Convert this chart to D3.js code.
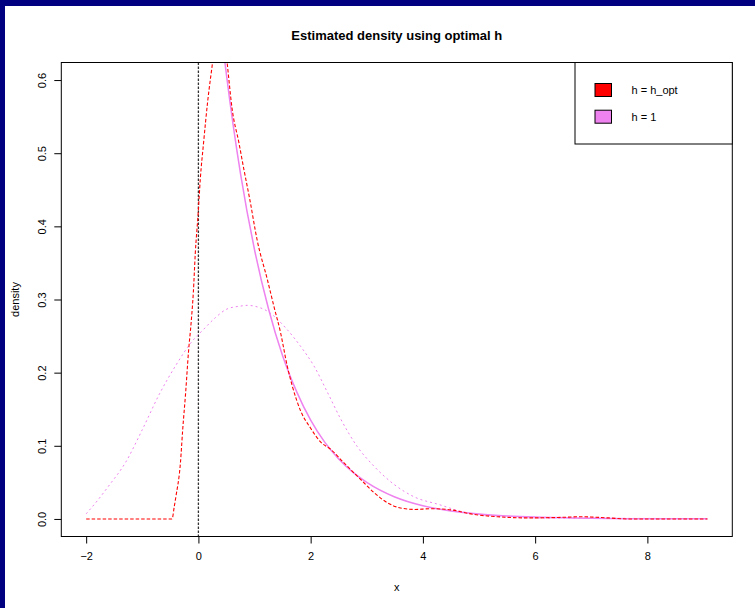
<!DOCTYPE html>
<html>
<head>
<meta charset="utf-8">
<script src="https://cdn.jsdelivr.net/npm/d3@7"></script>
<style>
    html, body { margin: 0; padding: 0; background: #000080; }
    svg { display: block; font-family: "Liberation Sans", Arial, sans-serif; }
</style>
</head>
<body>
<div id="chart"></div>
<script>
// estimate with optimal bandwidth (red dashed)
const hOptX = [-2, -0.47, -0.43, -0.4, -0.32, -0.28, -0.23, -0.175, -0.13, -0.09, -0.055, -0.007, 0.034, 0.093, 0.164, 0.254, 0.32, 0.39, 0.45, 0.51, 0.6, 0.72, 0.81, 0.915, 1.05, 1.226, 1.344, 1.463, 1.583, 1.672, 1.82, 2.0, 2.18, 2.36, 2.59, 2.89, 3.13, 3.37, 3.6, 3.85, 4.14, 4.44, 4.92, 5.33, 5.93, 6.4, 6.82, 7.3, 7.66, 9.07];
const hOptY = [0, 0, 0.017, 0.031, 0.077, 0.122, 0.17, 0.23, 0.268, 0.31, 0.364, 0.415, 0.465, 0.515, 0.57, 0.625, 0.665, 0.69, 0.665, 0.625, 0.561, 0.515, 0.478, 0.437, 0.38, 0.328, 0.291, 0.255, 0.209, 0.182, 0.148, 0.124, 0.105, 0.095, 0.077, 0.054, 0.036, 0.022, 0.015, 0.013, 0.014, 0.013, 0.006, 0.003, 0.0014, 0.002, 0.003, 0.0014, 0, 0];

// estimate with h = 1 (violet dashed)
const hOneX = [-2, -1.8, -1.6, -1.3, -1.0, -0.7, -0.41, -0.11, 0.09, 0.3, 0.51, 0.75, 0.87, 0.99, 1.23, 1.58, 1.82, 2.06, 2.3, 2.54, 2.83, 3.13, 3.49, 3.85, 4.29, 4.7, 5.04, 5.63, 6.5, 7.5, 9.07];
const hOneY = [0.007, 0.025, 0.045, 0.077, 0.122, 0.17, 0.209, 0.243, 0.259, 0.275, 0.287, 0.291, 0.292, 0.291, 0.284, 0.259, 0.236, 0.209, 0.173, 0.136, 0.099, 0.072, 0.047, 0.03, 0.0196, 0.01, 0.006, 0.002, 0.001, 0.0008, 0.0005];

// true density (violet solid)
const trueX = [0, 0.25, 0.5, 0.75, 1, 1.25, 1.5, 1.75, 2, 2.25, 2.5, 2.75, 3, 3.5, 4, 4.5, 5, 5.5, 6, 7, 8, 9.07];
const trueY = [1, 0.779, 0.607, 0.472, 0.368, 0.287, 0.223, 0.174, 0.135, 0.105, 0.082, 0.064, 0.05, 0.03, 0.018, 0.011, 0.0067, 0.0041, 0.0025, 0.0009, 0.0003, 0.0001];

const xTicks = [-2, 0, 2, 4, 6, 8];
const yTicks = [0, 0.1, 0.2, 0.3, 0.4, 0.5, 0.6];
const legendLabels = ["h = h_opt", "h = 1"];
const legendColors = ["#ff0000", "#ee82ee"];

const WIDTH = 755;
const HEIGHT = 608;
const BOX = { left: 61.3, right: 732.3, top: 62.5, bottom: 536.5 };

const svg = d3.select("#chart")
    .append("svg")
    .attr("width", WIDTH)
    .attr("height", HEIGHT);

// window frame: navy strip on top and left only
svg.append("rect")
    .attr("x", 5)
    .attr("y", 6)
    .attr("width", WIDTH - 5)
    .attr("height", HEIGHT - 6)
    .attr("fill", "#fff");

const x = d3.scaleLinear()
    .domain([-2.443, 9.513])
    .range([BOX.left, BOX.right]);

const y = d3.scaleLinear()
    .domain([-0.024, 0.624])
    .range([BOX.bottom, BOX.top]);

svg.append("defs")
    .append("clipPath")
    .attr("id", "plot-clip")
    .append("rect")
    .attr("x", BOX.left)
    .attr("y", BOX.top)
    .attr("width", BOX.right - BOX.left)
    .attr("height", BOX.bottom - BOX.top);

const plot = svg.append("g").attr("clip-path", "url(#plot-clip)");

const line = d3.line()
    .x(d => x(d[0]))
    .y(d => y(d[1]))
    .curve(d3.curveMonotoneX);

const zip = (xs, ys) => xs.map((v, i) => [v, ys[i]]);

const drawCurve = (xs, ys, color, width, dash) => plot
    .append("path")
    .datum(zip(xs, ys))
    .attr("fill", "none")
    .attr("stroke", color)
    .attr("stroke-width", width)
    .attr("stroke-dasharray", dash)
    .attr("d", line);

// vertical reference at x = 0
plot.append("line")
    .attr("x1", x(0))
    .attr("x2", x(0))
    .attr("y1", BOX.top)
    .attr("y2", BOX.bottom)
    .attr("stroke", "#333")
    .attr("stroke-width", 1.3)
    .attr("stroke-dasharray", "2.5,1.5");

drawCurve(hOneX, hOneY, "#ee82ee", 1, "2,3");
drawCurve(trueX, trueY, "#ee82ee", 1.5, null);
drawCurve(hOptX, hOptY, "#ff0000", 1.1, "3.5,2");

// box
svg.append("rect")
    .attr("x", BOX.left)
    .attr("y", BOX.top)
    .attr("width", BOX.right - BOX.left)
    .attr("height", BOX.bottom - BOX.top)
    .attr("fill", "none")
    .attr("stroke", "#000")
    .attr("stroke-width", 1);

// axes
const xAxis = svg.append("g")
    .attr("transform", `translate(0, ${ BOX.bottom })`)
    .call(d3.axisBottom(x)
        .tickValues(xTicks)
        .tickSize(7)
        .tickPadding(9)
        .tickFormat(d => d < 0 ? `\u2212${ -d }` : `${ d }`));

xAxis.select(".domain").remove();
xAxis.selectAll("text")
    .attr("font-size", 11)
    .attr("fill", "#000");

const yAxis = svg.append("g")
    .attr("transform", `translate(${ BOX.left }, 0)`)
    .call(d3.axisLeft(y)
        .tickValues(yTicks)
        .tickSize(7)
        .tickFormat(d3.format(".1f")));

yAxis.select(".domain").remove();
yAxis.selectAll("text")
    .attr("font-size", 11)
    .attr("fill", "#000")
    .attr("text-anchor", "middle")
    .attr("dy", null)
    .attr("x", null)
    .attr("dominant-baseline", "central")
    .attr("transform", "translate(-19, 0) rotate(-90)");

// titles
svg.append("text")
    .attr("x", (BOX.left + BOX.right) / 2)
    .attr("y", 35)
    .attr("text-anchor", "middle")
    .attr("dominant-baseline", "central")
    .attr("font-size", 13)
    .attr("font-weight", "bold")
    .text("Estimated density using optimal h");

svg.append("text")
    .attr("x", (BOX.left + BOX.right) / 2)
    .attr("y", 587)
    .attr("text-anchor", "middle")
    .attr("dominant-baseline", "central")
    .attr("font-size", 11)
    .text("x");

svg.append("text")
    .attr("transform", `translate(15, ${ (BOX.top + BOX.bottom) / 2 }) rotate(-90)`)
    .attr("text-anchor", "middle")
    .attr("dominant-baseline", "central")
    .attr("font-size", 11)
    .text("density");

// legend
const legend = svg.append("g").attr("class", "legend");

legend.append("rect")
    .attr("x", 575)
    .attr("y", BOX.top)
    .attr("width", BOX.right - 575)
    .attr("height", 144 - BOX.top)
    .attr("fill", "#fff")
    .attr("stroke", "#000");

const cell = legend.selectAll(".legend-cell")
    .data(legendLabels)
    .enter()
    .append("g")
    .attr("class", "legend-cell")
    .attr("transform", (d, i) => `translate(595, ${ 90 + i * 26.7 })`);

cell.append("rect")
    .attr("x", 0)
    .attr("y", -6.5)
    .attr("width", 16.5)
    .attr("height", 13)
    .attr("fill", (d, i) => legendColors[i])
    .attr("stroke", "#000");

cell.append("text")
    .attr("x", 36.5)
    .attr("dominant-baseline", "central")
    .attr("font-size", 11)
    .text(d => d);
</script>
</body>
</html>
